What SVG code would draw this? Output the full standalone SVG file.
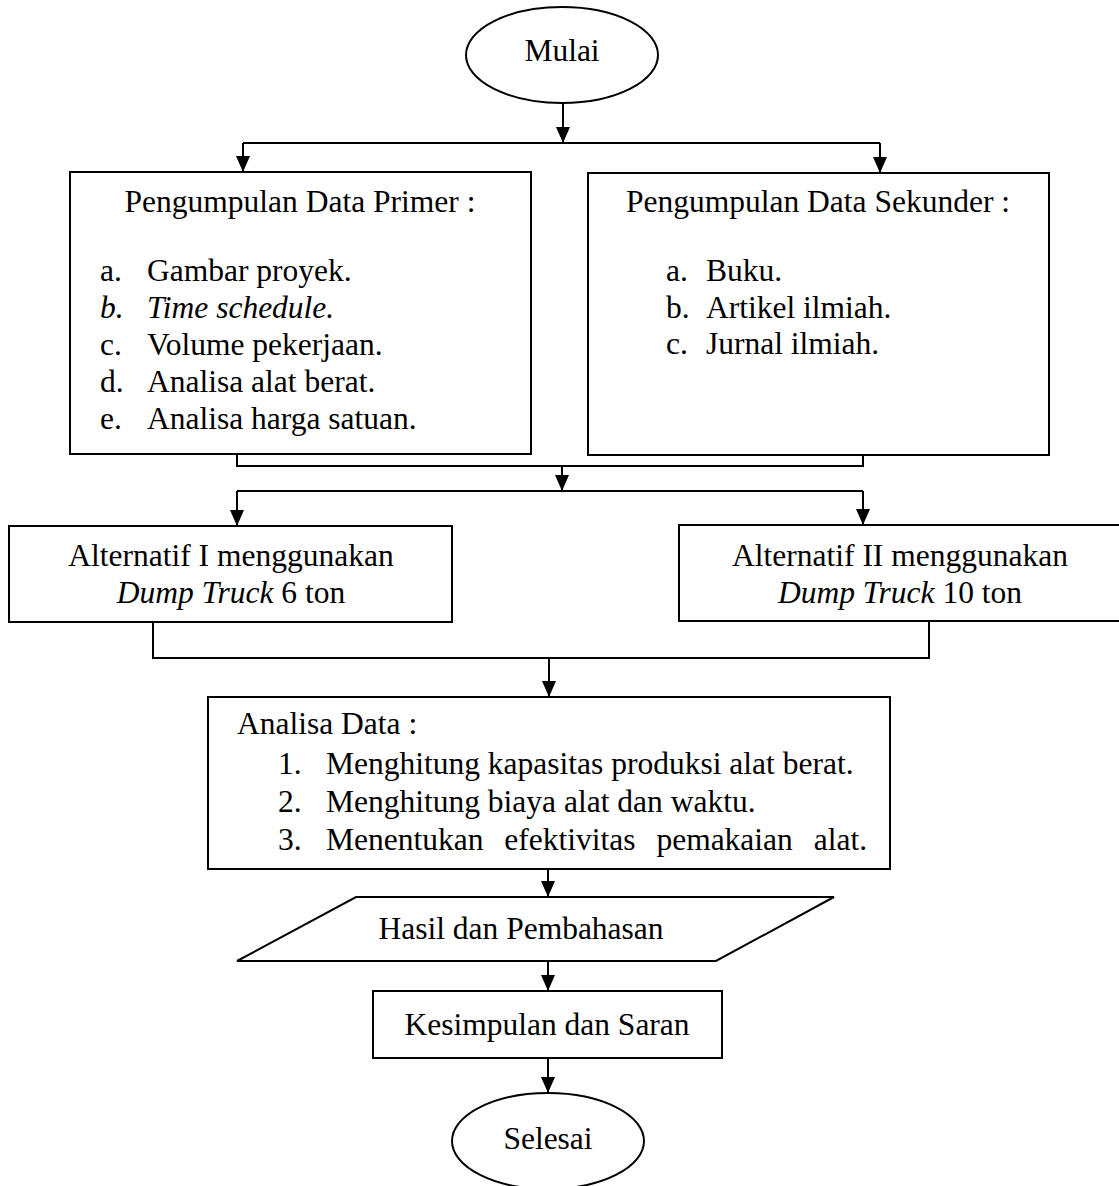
<svg xmlns="http://www.w3.org/2000/svg" width="1119" height="1186" viewBox="0 0 1119 1186">
<defs>
<marker id="arr" markerUnits="userSpaceOnUse" markerWidth="16" markerHeight="14" refX="16" refY="7" orient="auto" viewBox="0 0 16 14">
<path d="M0,0 L16,7 L0,14 Z" fill="#000"/>
</marker>
<style>
.s{fill:#fff;stroke:#000;stroke-width:2}
.c{fill:none;stroke:#000;stroke-width:2}
.t{font-family:"Liberation Serif","Times New Roman",serif;font-size:31.5px;fill:#000}
.m{text-anchor:middle}
.i{font-style:italic}
</style>
</defs>
<rect width="1119" height="1186" fill="#fff"/>
<g id="connectors">
<path class="c" d="M563,103 V143" marker-end="url(#arr)"/>
<path class="c" d="M243,143 H880"/>
<path class="c" d="M243,143 V172" marker-end="url(#arr)"/>
<path class="c" d="M880,143 V173" marker-end="url(#arr)"/>
<path class="c" d="M237,454 V466 H863 V455"/>
<path class="c" d="M562,466 V491" marker-end="url(#arr)"/>
<path class="c" d="M237,491 H863"/>
<path class="c" d="M237,491 V526" marker-end="url(#arr)"/>
<path class="c" d="M863,491 V525" marker-end="url(#arr)"/>
<path class="c" d="M153,622 V658 H929 V621"/>
<path class="c" d="M549,658 V697" marker-end="url(#arr)"/>
<path class="c" d="M548,869 V897" marker-end="url(#arr)"/>
<path class="c" d="M548,961 V991" marker-end="url(#arr)"/>
<path class="c" d="M548,1058 V1093" marker-end="url(#arr)"/>
</g>
<g id="mulai">
<ellipse class="s" cx="562" cy="55" rx="96" ry="48"/>
<text class="t m" x="562" y="61">Mulai</text>
</g>
<g id="primer">
<rect class="s" x="70" y="172" width="461" height="282"/>
<text class="t m" x="300" y="212">Pengumpulan Data Primer :</text>
<text class="t" x="100" y="281">a.</text><text class="t" x="147" y="281">Gambar proyek.</text>
<text class="t i" x="100" y="318">b.</text><text class="t i" x="147" y="318">Time schedule.</text>
<text class="t" x="100" y="355">c.</text><text class="t" x="147" y="355">Volume pekerjaan.</text>
<text class="t" x="100" y="392">d.</text><text class="t" x="147" y="392">Analisa alat berat.</text>
<text class="t" x="100" y="429">e.</text><text class="t" x="147" y="429">Analisa harga satuan.</text>
</g>
<g id="sekunder">
<rect class="s" x="588" y="173" width="461" height="282"/>
<text class="t m" x="818" y="212">Pengumpulan Data Sekunder :</text>
<text class="t" x="666" y="281">a.</text><text class="t" x="706" y="281">Buku.</text>
<text class="t" x="666" y="318">b.</text><text class="t" x="706" y="318">Artikel ilmiah.</text>
<text class="t" x="666" y="354">c.</text><text class="t" x="706" y="354">Jurnal ilmiah.</text>
</g>
<g id="alt1">
<rect class="s" x="9" y="526" width="443" height="96"/>
<text class="t m" x="231" y="566">Alternatif I menggunakan</text>
<text class="t m" x="231" y="603"><tspan class="i">Dump Truck</tspan> 6 ton</text>
</g>
<g id="alt2">
<rect class="s" x="679" y="525" width="445" height="96"/>
<text class="t m" x="900" y="566">Alternatif II menggunakan</text>
<text class="t m" x="900" y="603"><tspan class="i">Dump Truck</tspan> 10 ton</text>
</g>
<g id="analisa">
<rect class="s" x="208" y="697" width="682" height="172"/>
<text class="t" x="237" y="734">Analisa Data :</text>
<text class="t" x="278" y="774">1.</text><text class="t" x="326" y="774">Menghitung kapasitas produksi alat berat.</text>
<text class="t" x="278" y="812">2.</text><text class="t" x="326" y="812">Menghitung biaya alat dan waktu.</text>
<text class="t" x="278" y="850">3.</text><text class="t" x="326" y="850" style="word-spacing:13px">Menentukan efektivitas pemakaian alat.</text>
</g>
<g id="hasil">
<polygon class="s" points="356,897 834,897 716,961 237,961"/>
<text class="t m" x="521" y="939">Hasil dan Pembahasan</text>
</g>
<g id="kesimpulan">
<rect class="s" x="373" y="991" width="349" height="67"/>
<text class="t m" x="547" y="1035">Kesimpulan dan Saran</text>
</g>
<g id="selesai">
<ellipse class="s" cx="548" cy="1141" rx="96" ry="48"/>
<text class="t m" x="548" y="1149">Selesai</text>
</g>
</svg>
